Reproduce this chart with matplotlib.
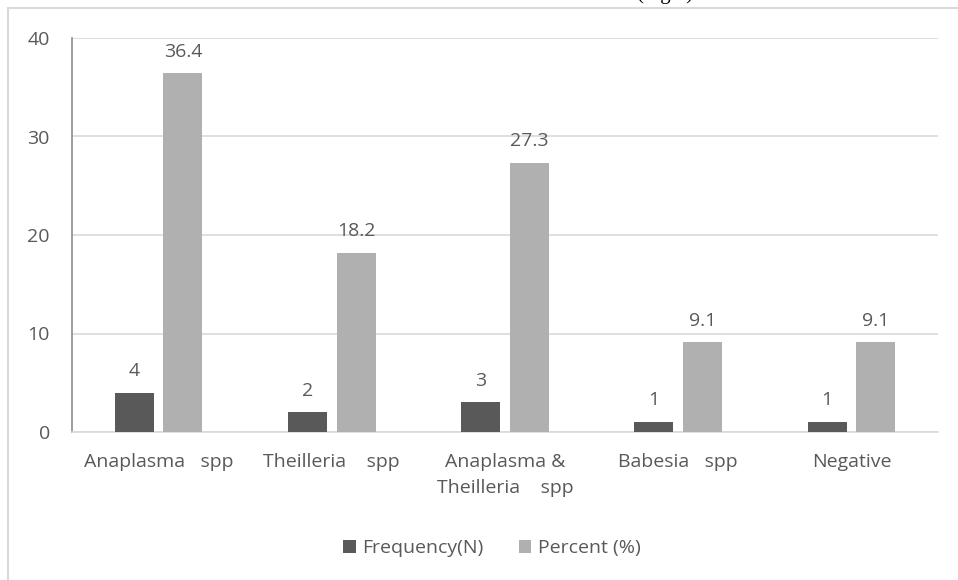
import numpy as np
import matplotlib.pyplot as plt
from matplotlib.lines import Line2D

# data
categories = ["Anaplasma   spp", "Theilleria    spp", "Anaplasma &\nTheilleria    spp",
              "Babesia   spp", "Negative"]
frequency = [4, 2, 3, 1, 1]
percent = [36.4, 18.2, 27.3, 9.1, 9.1]
series_names = ["Frequency(N)", "Percent (%)"]
yticks = [0, 10, 20, 30, 40]

c_freq = "#595959"
c_pct = "#b0b0b0"
c_text = "#595959"
c_grid = "#d9d9d9"
fs = 14

plt.rcParams['font.family'] = ['Open Sans', 'DejaVu Sans']

fig = plt.figure(figsize=(9.58, 5.80), dpi=100)
W, H = 958, 580
ax = fig.add_axes([72 / W, 1 - 432 / H, (938 - 72) / W, (432 - 38) / H])

x = np.arange(len(categories))
bw = 0.225
off = 0.14
b1 = ax.bar(x - off, frequency, bw, color=c_freq, label=series_names[0], zorder=3)
b2 = ax.bar(x + off, percent, bw, color=c_pct, label=series_names[1], zorder=3)

# value labels above each bar
for bars, vals in ((b1, frequency), (b2, percent)):
    for r, v in zip(bars, vals):
        ax.annotate(f"{v:g}", (r.get_x() + r.get_width() / 2, v), xytext=(0, 12),
                    textcoords="offset points", ha="center", va="baseline",
                    fontsize=fs, color=c_text)

ax.set_xlim(-0.5, len(categories) - 0.5)
ax.set_ylim(0, 40)
ax.set_yticks(yticks)
ax.set_xticks(x)
ax.set_xticklabels(categories, linespacing=1.55)
ax.tick_params(axis='both', length=0, labelsize=fs, labelcolor=c_text)
ax.tick_params(axis='y', pad=16)
ax.tick_params(axis='x', pad=15)
ax.yaxis.grid(True, color=c_grid, linewidth=1.2, zorder=0)
ax.set_axisbelow(True)
for s in ("top", "right"):
    ax.spines[s].set_visible(False)
ax.spines["left"].set_color("#8c8c8c")
ax.spines["left"].set_linewidth(1.2)
ax.spines["bottom"].set_color(c_grid)
ax.spines["bottom"].set_linewidth(1.2)

fig.legend(handles=[b1, b2], labels=series_names, loc="center",
           bbox_to_anchor=(492 / W, 1 - 548 / H), ncol=2, frameon=False,
           fontsize=fs, labelcolor=c_text, handlelength=0.65, handleheight=0.65,
           handletextpad=0.35, columnspacing=1.8)

# outer chart frame (partly cut off in the original)
fig.add_artist(Line2D([8 / W, 8 / W], [0, 1 - 8 / H], color=c_grid, linewidth=1.5,
                      transform=fig.transFigure))
fig.add_artist(Line2D([8 / W, 1], [1 - 8 / H, 1 - 8 / H], color=c_grid, linewidth=1.5,
                      transform=fig.transFigure))

# caption above the chart, cut off at the top edge in the original
fig.text(665 / W, 1 + 1 / H, "(Fig.1)", ha="center", va="baseline",
         family=["Liberation Serif"], fontsize=15, color="black")

fig.savefig("out.png", dpi=100)
